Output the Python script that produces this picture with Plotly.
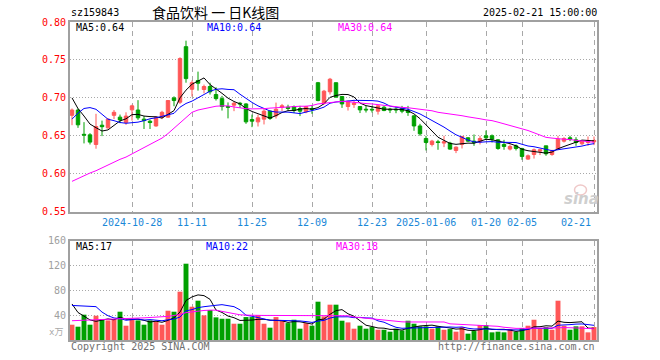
import plotly.graph_objects as go

# ---------------- data ----------------
dates = (
    ["2024-10-%02d" % d for d in [14, 15, 16, 17, 18, 21, 22, 23, 24, 25, 28, 29, 30, 31]]
    + ["2024-11-%02d" % d for d in [1, 4, 5, 6, 7, 8, 11, 12, 13, 14, 15, 18, 19, 20, 21, 22, 25, 26, 27, 28, 29]]
    + ["2024-12-%02d" % d for d in [2, 3, 4, 5, 6, 9, 10, 11, 12, 13, 16, 17, 18, 19, 20, 23, 24, 25, 26, 27, 30, 31]]
    + ["2025-01-%02d" % d for d in [2, 3, 6, 7, 8, 9, 10, 13, 14, 15, 16, 17, 20, 21, 22, 23, 24, 27]]
    + ["2025-02-%02d" % d for d in [5, 6, 7, 10, 11, 12, 13, 14, 17, 18, 19, 20, 21]]
)

opens = [0.677, 0.684, 0.652, 0.6513, 0.6386, 0.664, 0.6605, 0.677, 0.6746, 0.6675,
         0.6842, 0.684, 0.672, 0.6693, 0.663, 0.6746, 0.6746, 0.700, 0.6943, 0.7675,
         0.7114, 0.7228, 0.711, 0.715, 0.7044, 0.699, 0.6886, 0.6904, 0.693, 0.692,
         0.6715, 0.6684, 0.672, 0.6825, 0.6763, 0.6877, 0.6877, 0.6886, 0.686, 0.6816,
         0.686, 0.720, 0.693, 0.708, 0.720, 0.7018, 0.6886, 0.6912, 0.6886, 0.6851,
         0.685, 0.6825, 0.6877, 0.6851, 0.6851, 0.686, 0.6833, 0.6763, 0.663, 0.6465,
         0.6386, 0.6421, 0.6404, 0.6404, 0.6307, 0.6386, 0.6474, 0.643, 0.6421, 0.650,
         0.650, 0.6447, 0.6386, 0.6325, 0.6368, 0.6333, 0.6193, 0.6254, 0.6298, 0.6368,
         0.6254, 0.6325, 0.643, 0.6474, 0.6447, 0.6395, 0.6412, 0.6421]
highs = [0.686, 0.686, 0.668, 0.6535, 0.679, 0.670, 0.673, 0.684, 0.678, 0.681,
         0.691, 0.697, 0.676, 0.6715, 0.6755, 0.683, 0.697, 0.702, 0.7535, 0.7754,
         0.723, 0.7346, 0.7175, 0.720, 0.714, 0.7026, 0.694, 0.6947, 0.6947, 0.693,
         0.678, 0.678, 0.686, 0.6833, 0.6938, 0.692, 0.691, 0.690, 0.6895, 0.6895,
         0.6904, 0.721, 0.7105, 0.7263, 0.720, 0.7026, 0.6965, 0.6965, 0.6886, 0.6895,
         0.6895, 0.6904, 0.6895, 0.6868, 0.6877, 0.6895, 0.6895, 0.6772, 0.6658, 0.650,
         0.6447, 0.6447, 0.650, 0.6421, 0.636, 0.650, 0.6482, 0.6518, 0.650, 0.657,
         0.6518, 0.6456, 0.6447, 0.6386, 0.6386, 0.6342, 0.6254, 0.6333, 0.6325, 0.6368,
         0.6316, 0.650, 0.6482, 0.650, 0.6482, 0.6439, 0.6491, 0.6491]
lows = [0.664, 0.6605, 0.640, 0.6386, 0.633, 0.6496, 0.6595, 0.672, 0.6667, 0.6645,
        0.670, 0.671, 0.659, 0.659, 0.662, 0.672, 0.674, 0.689, 0.692, 0.720,
        0.7018, 0.7096, 0.706, 0.7044, 0.6965, 0.6833, 0.673, 0.6825, 0.6868, 0.6658,
        0.6614, 0.6623, 0.665, 0.671, 0.6728, 0.6825, 0.6833, 0.680, 0.676, 0.6798,
        0.679, 0.6956, 0.691, 0.7044, 0.700, 0.6868, 0.6833, 0.6868, 0.680, 0.6807,
        0.6807, 0.678, 0.6825, 0.680, 0.6798, 0.6798, 0.6763, 0.6566, 0.650, 0.6307,
        0.636, 0.6316, 0.6351, 0.6316, 0.6272, 0.6333, 0.6421, 0.6368, 0.6386, 0.6447,
        0.6412, 0.6316, 0.6316, 0.6307, 0.6307, 0.6184, 0.6184, 0.620, 0.6246, 0.6237,
        0.6237, 0.6316, 0.6412, 0.643, 0.6368, 0.6377, 0.6368, 0.6377]
closes = [0.684, 0.6645, 0.651, 0.6417, 0.6623, 0.662, 0.672, 0.681, 0.671, 0.676,
          0.6895, 0.6737, 0.670, 0.6675, 0.6746, 0.681, 0.6965, 0.6965, 0.7518, 0.7254,
          0.720, 0.7193, 0.715, 0.708, 0.699, 0.6886, 0.6877, 0.693, 0.692, 0.6684,
          0.6693, 0.6737, 0.6825, 0.6728, 0.685, 0.6895, 0.686, 0.6833, 0.6825, 0.6886,
          0.685, 0.6965, 0.7088, 0.7246, 0.701, 0.692, 0.6956, 0.693, 0.6842, 0.6842,
          0.6842, 0.6895, 0.6833, 0.6842, 0.6842, 0.6825, 0.6807, 0.663, 0.6526, 0.6412,
          0.643, 0.6412, 0.6421, 0.6325, 0.6351, 0.6491, 0.643, 0.6412, 0.6465, 0.6474,
          0.6456, 0.6333, 0.636, 0.636, 0.6333, 0.6228, 0.6237, 0.6316, 0.6316, 0.6263,
          0.6298, 0.6456, 0.6465, 0.6456, 0.6412, 0.643, 0.643, 0.6439]
volumes = [24.6, 21.4, 40.7, 24.6, 39, 33.7, 31.5, 33.7, 45.5, 23,
           33.7, 31.5, 24.6, 31.5, 30, 24.6, 47.1, 45.5, 77.7, 122.7,
           53.5, 63.2, 39.6, 48.2, 36.4, 34.2, 34.2, 26.2, 26.2, 36.9,
           36.9, 40.1, 26.2, 19.8, 36.9, 31.5, 27.2, 32.6, 18.2, 27.2,
           23, 61.6, 38, 56.8, 56.8, 31, 28.3, 18.2, 23, 18.2,
           20.8, 16.5, 16.5, 13.4, 18.2, 15.5, 31, 26.2, 22, 22,
           18.2, 22, 16.5, 17.6, 13.4, 20.8, 10.2, 14.4, 24, 24,
           12.3, 13.4, 12.3, 17.6, 13.4, 19.3, 23, 32.6, 18.7, 20.8,
           16.5, 63.2, 23, 16.5, 22, 22, 12.3, 20.8]

# closes / volumes of the 9 sessions before the first drawn day (for MA5/MA10 warm-up)
prior_closes = [0.585, 0.590, 0.630, 0.685, 0.730, 0.735, 0.700, 0.695, 0.686]
prior_volumes = [25, 40, 30, 50, 121, 90, 70, 55, 50]

# 30-day averages
ma30_price = [0.590, 0.594, 0.597, 0.601, 0.604, 0.608, 0.611, 0.615, 0.619, 0.622,
              0.626, 0.630, 0.634, 0.638, 0.642, 0.647, 0.653, 0.660, 0.667, 0.675,
              0.681, 0.684, 0.686, 0.688, 0.689, 0.6895, 0.6895, 0.688, 0.6865, 0.6858,
              0.6855, 0.6855, 0.6858, 0.6865, 0.687, 0.688, 0.688, 0.6885, 0.689, 0.689,
              0.690, 0.692, 0.693, 0.694, 0.6952, 0.6955, 0.695, 0.694, 0.693, 0.6925,
              0.692, 0.691, 0.690, 0.689, 0.688, 0.6875, 0.687, 0.686, 0.685, 0.684,
              0.683, 0.681, 0.680, 0.679, 0.678, 0.6765, 0.675, 0.674, 0.6725, 0.671,
              0.670, 0.668, 0.666, 0.664, 0.662, 0.6595, 0.657, 0.654, 0.651, 0.648,
              0.647, 0.646, 0.6455, 0.645, 0.644, 0.643, 0.642, 0.6415]
ma30_volume = [31, 31.5, 32, 32.5, 33, 33.3, 33.6, 34, 34.3, 34.6,
               35, 35.3, 35.6, 36, 36.5, 37, 38, 39.5, 41, 44,
               45.5, 47, 47.5, 48, 48, 46, 44, 42, 40.5, 40,
               39.5, 39.5, 39.5, 39.5, 39.5, 39.5, 39.5, 39.5, 39.5, 39.5,
               39.5, 39, 39, 39, 39, 39, 39, 37, 36, 35,
               34, 33, 31.5, 30.5, 29.5, 29.2, 29, 29, 29, 29,
               29, 29, 29, 26, 25.4, 25, 24.5, 24, 24, 23.5,
               23, 22, 20.5, 19, 18.7, 18.7, 18.7, 18.7, 18.7, 18.7,
               18.7, 19.5, 20, 20, 19.5, 19, 18.5, 18]

tick_dates = ["2024-10-28", "2024-11-11", "2024-11-25", "2024-12-09", "2024-12-23",
              "2025-01-06", "2025-01-20", "2025-02-05", "2025-02-21"]
tick_labels = ["2024-10-28", "11-11", "11-25", "12-09", "12-23",
               "2025-01-06", "01-20", "02-05", "02-21"]
price_ticks = [0.55, 0.60, 0.65, 0.70, 0.75, 0.80]
volume_ticks = [40, 80, 120, 160]

price_legend = ["MA5:0.64", "MA10:0.64", "MA30:0.64"]
volume_legend = ["MA5:17", "MA10:22", "MA30:18"]


def moving_avg(prior, vals, n):
    full = list(prior) + list(vals)
    off = len(prior)
    return [sum(full[off + i - n + 1: off + i + 1]) / n for i in range(len(vals))]


ma5_price = moving_avg(prior_closes, closes, 5)
ma10_price = moving_avg(prior_closes, closes, 10)
ma5_volume = moving_avg(prior_volumes, volumes, 5)
ma10_volume = moving_avg(prior_volumes, volumes, 10)

# ---------------- styling ----------------
RED = "#ff5757"
GREEN = "#00a000"
MONO = "DejaVu Sans Mono, Liberation Mono, monospace"
CJK = "Noto Sans CJK SC, DejaVu Sans, sans-serif"
W, H = 660, 360
L, R, T, B = 70, 597.5, 22, 340  # plot area in pixels


def px(x):
    return (x - L) / (R - L)


def py(y):
    return (B - y) / (B - T)


vol_colors = [RED if c >= o else GREEN for o, c in zip(opens, closes)]

fig = go.Figure()
fig.add_trace(go.Candlestick(
    x=dates, open=opens, high=highs, low=lows, close=closes,
    increasing=dict(line=dict(color=RED, width=1), fillcolor=RED),
    decreasing=dict(line=dict(color=GREEN, width=1), fillcolor=GREEN),
    whiskerwidth=0, xaxis="x", yaxis="y", hoverinfo="skip", showlegend=False))
for ys, col in [(ma5_price, "#000000"), (ma10_price, "#0000ff"), (ma30_price, "#ff00ff")]:
    fig.add_trace(go.Scatter(x=dates, y=ys, mode="lines", line=dict(color=col, width=1),
                             xaxis="x", yaxis="y", hoverinfo="skip", showlegend=False))

fig.add_trace(go.Bar(x=dates, y=volumes, marker=dict(color=vol_colors, line=dict(width=0)),
                     width=0.82, xaxis="x2", yaxis="y2", hoverinfo="skip", showlegend=False))
for ys, col in [(ma5_volume, "#000000"), (ma10_volume, "#0000ff"), (ma30_volume, "#ff00ff")]:
    fig.add_trace(go.Scatter(x=dates, y=ys, mode="lines", line=dict(color=col, width=1),
                             xaxis="x2", yaxis="y2", hoverinfo="skip", showlegend=False))

main_dom = [py(211.7), 1]
vol_dom = [0, py(240.5)]
xr = [-0.333, len(dates) - 0.5]
xcommon = dict(type="category", range=xr, tickvals=tick_dates, showticklabels=False,
               ticks="", showgrid=True, gridcolor="#a8a8a8", gridwidth=1, griddash="5px,4px",
               showline=True, mirror=True, linecolor="#a0a0a0", linewidth=2,
               zeroline=False, fixedrange=True)
ycommon = dict(showgrid=True, gridcolor="#a8a8a8", gridwidth=1, griddash="1px,2px",
               showline=True, mirror=True, linecolor="#a0a0a0", linewidth=2,
               zeroline=False, ticks="", fixedrange=True)

fig.update_layout(
    width=W, height=H, autosize=False,
    margin=dict(l=L, r=W - R, t=T, b=H - B, pad=0),
    paper_bgcolor="white", plot_bgcolor="white",
    showlegend=False, bargap=0.1, boxgap=0.18,
    xaxis=dict(xcommon, anchor="y", domain=[0, 1], rangeslider=dict(visible=False)),
    xaxis2=dict(xcommon, anchor="y2", domain=[0, 1], matches="x"),
    yaxis=dict(ycommon, domain=main_dom, range=[price_ticks[0], price_ticks[-1]],
               tickvals=price_ticks, ticktext=["%.2f" % v for v in price_ticks],
               tickfont=dict(family=MONO, size=10, color="#ff0000")),
    yaxis2=dict(ycommon, domain=vol_dom, range=[0, volume_ticks[-1]],
                tickvals=volume_ticks, ticktext=[str(v) for v in volume_ticks],
                tickfont=dict(family=MONO, size=10, color="#a0a0a0")),
)

ann = []


def text(x, y, s, color="#000", size=10, family=MONO, xanchor="left", **kw):
    ann.append(dict(x=px(x), y=py(y), xref="paper", yref="paper", text=s, showarrow=False,
                    xanchor=xanchor, yanchor="middle", font=dict(family=family, size=size, color=color),
                    **kw))


# header
text(69, 12, "sz159843")
text(150, 12, "食品饮料 一 日K线图", size=14, family=CJK)
text(600, 12, "2025-02-21 15:00:00", xanchor="right")
# price legend
for s, x, col in zip(price_legend, [74, 205, 336], ["#000", "#0000ff", "#ff00ff"]):
    text(x, 27, s, color=col)
# volume legend
for s, x, col in zip(volume_legend, [74, 204, 334], ["#000", "#0000ff", "#ff00ff"]):
    text(x, 247, s, color=col)
# date labels
for i, (d, lab) in enumerate(zip(tick_dates, tick_labels)):
    last = i == len(tick_dates) - 1
    ann.append(dict(x=d, y=py(222), xref="x", yref="paper", text=lab, showarrow=False,
                    xanchor="right" if last else "center", xshift=-1 if last else 0,
                    yanchor="middle", font=dict(family=MONO, size=10, color="#1a88d8")))
text(56, 332, "x万", color="#a8a8a8", size=9, family=MONO + ", " + CJK, xanchor="center")
text(69, 346, "Copyright 2025 SINA.COM", color="#707070")
text(598, 346, "http://finance.sina.com.cn", color="#707070", xanchor="right")
# watermark
ann.append(dict(x=px(582), y=py(199), xref="paper", yref="paper", text="<b><i>sina</i></b>",
                showarrow=False, xanchor="center", yanchor="middle",
                font=dict(family="DejaVu Sans", size=15, color="#cfcfcf")))
fig.update_layout(annotations=ann)
fig.add_shape(type="circle", xref="paper", yref="paper",
              x0=px(575), x1=px(587), y0=py(195), y1=py(185),
              line=dict(color="#efc8c8", width=1.5), fillcolor="rgba(0,0,0,0)")

fig.write_html("out.html", config={"displayModeBar": False, "staticPlot": True},
               post_script="document.body.style.margin='0';document.body.style.overflow='hidden';")
